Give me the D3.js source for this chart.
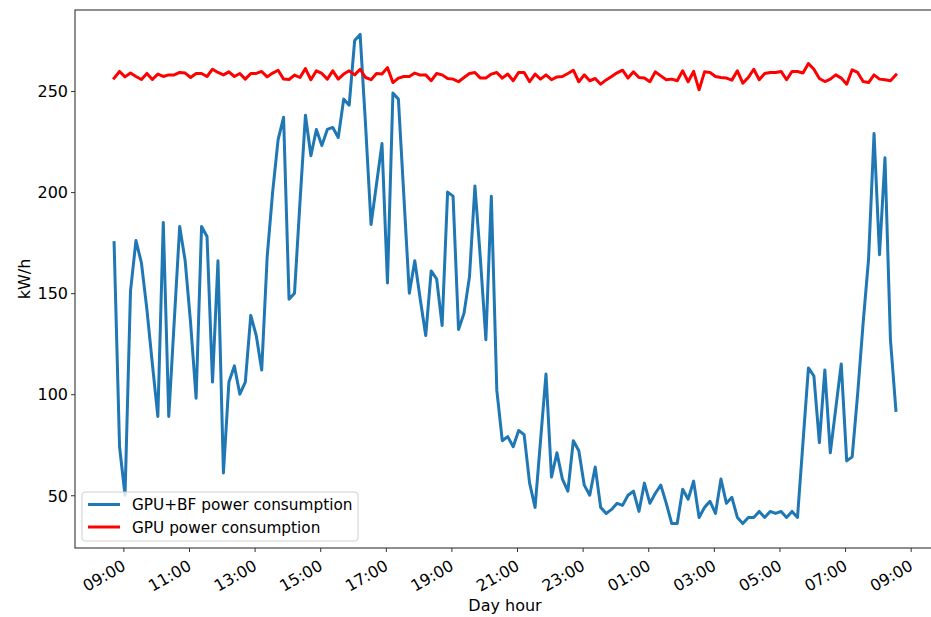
<!DOCTYPE html>
<html>
<head>
<meta charset="utf-8">
<script src="https://cdn.jsdelivr.net/npm/d3@7"></script>
<style>
  body { margin: 0; background: #fff; }
  text { font-family: "DejaVu Sans", sans-serif; fill: #000; }
</style>
</head>
<body>
<div id="chart"></div>
<script>
// readings every 10 minutes, starting at 08:43
var startTime = "08:43";
var stepMinutes = 10;

var seriesNames = ["GPU+BF power consumption", "GPU power consumption"];
var seriesColors = ["#1f77b4", "red"];

var gpuBf = [175, 74, 50, 151, 176, 165, 142, 115, 89, 185,
  89, 136, 183, 166, 135, 98, 183, 178, 106, 166,
  61, 106, 114, 100, 106, 139, 129, 112, 168, 200,
  226, 237, 147, 150, 195, 238, 218, 231, 223, 231,
  232, 227, 246, 243, 275, 278, 233, 184, 204, 224,
  155, 249, 246, 198, 150, 166, 147, 129, 161, 157,
  134, 200, 198, 132, 140, 158, 203, 167, 127, 198,
  102, 77, 79, 74, 82, 80, 56, 44, 77, 110,
  59, 71, 58, 52, 77, 72, 55, 50, 64, 44,
  41, 43, 46, 45, 50, 52, 42, 56, 46, 51,
  55, 46, 36, 36, 53, 48, 57, 39, 44, 47,
  41, 58, 46, 49, 39, 36, 39, 39, 42, 39,
  42, 41, 42, 39, 42, 39, 76, 113, 109, 76,
  112, 71, 93, 115, 67, 69, 100, 135, 167, 229,
  169, 217, 127, 92];

var gpu = [256.4, 259.7, 257.0, 258.9, 257.2, 255.7, 258.7, 255.7, 258.4, 257.2,
  258.0, 258.0, 259.2, 258.9, 256.7, 258.7, 258.7, 257.2, 260.8, 259.2,
  258.0, 259.5, 257.2, 258.7, 255.9, 258.7, 258.7, 259.7, 257.0, 258.9,
  260.3, 255.9, 255.7, 257.9, 256.7, 261.1, 255.6, 260.0, 258.7, 255.9,
  260.0, 255.9, 258.4, 260.0, 258.0, 260.8, 256.7, 255.6, 258.7, 258.4,
  261.6, 254.2, 256.4, 257.2, 257.2, 258.9, 257.9, 258.0, 255.1, 258.7,
  258.0, 256.2, 255.9, 254.6, 256.7, 258.7, 259.2, 256.4, 256.4, 258.4,
  259.2, 256.4, 258.4, 255.1, 259.2, 259.2, 254.6, 258.4, 255.9, 258.0,
  255.6, 257.0, 257.2, 258.7, 260.3, 254.6, 258.0, 255.1, 256.2, 253.4,
  255.5, 257.2, 259.0, 260.3, 256.4, 259.5, 256.7, 256.4, 254.6, 259.5,
  257.5, 255.6, 255.9, 255.1, 260.0, 254.6, 259.7, 250.6, 259.5, 259.2,
  257.2, 256.7, 256.4, 255.4, 260.0, 253.9, 256.7, 260.8, 255.6, 258.7,
  259.2, 259.2, 259.7, 255.6, 259.7, 259.7, 258.9, 263.6, 260.8, 256.2,
  254.7, 255.9, 258.0, 256.4, 253.4, 260.5, 259.2, 254.7, 254.2, 258.0,
  255.9, 255.6, 255.1, 258.0];

var svgWidth = 931;
var svgHeight = 617;

var margin = { top: 10, right: -4, bottom: 69, left: 75 };
var width = svgWidth - margin.left - margin.right;
var height = svgHeight - margin.top - margin.bottom;

var t0 = d3.timeParse("%Y-%m-%d %H:%M")("2021-01-01 " + startTime);
var times = gpuBf.map(function(d, i) { return d3.timeMinute.offset(t0, i * stepMinutes); });

var svg = d3.select("#chart")
  .append("svg")
  .attr("width", svgWidth)
  .attr("height", svgHeight)
  .style("overflow", "hidden");

var chartGroup = svg.append("g")
  .attr("transform", `translate(${margin.left}, ${margin.top})`);

// matplotlib style 5% margins
var tExt = d3.extent(times);
var tPad = (tExt[1] - tExt[0]) * 0.05;
var xScale = d3.scaleTime()
  .domain([new Date(+tExt[0] - tPad), new Date(+tExt[1] + tPad)])
  .range([0, width]);

var yMin = d3.min(gpuBf.concat(gpu));
var yMax = d3.max(gpuBf.concat(gpu));
var yPad = (yMax - yMin) * 0.05;
var yScale = d3.scaleLinear()
  .domain([yMin - yPad, yMax + yPad])
  .range([height, 0]);

// axes
var xTicks = d3.timeHour.range(d3.timeHour.ceil(tExt[0]), d3.timeHour.offset(tExt[1], 1), 2);
var bottomAxis = d3.axisBottom(xScale)
  .tickValues(xTicks)
  .tickFormat(d3.timeFormat("%H:%M"))
  .tickSizeOuter(0)
  .tickSize(4);
var leftAxis = d3.axisLeft(yScale)
  .tickValues([50, 100, 150, 200, 250])
  .tickSizeOuter(0)
  .tickSize(4);

var xAxisG = chartGroup.append("g")
  .attr("transform", `translate(0, ${height})`)
  .call(bottomAxis);
xAxisG.select(".domain").remove();
xAxisG.selectAll("line").attr("stroke", "#333").attr("stroke-width", 1);
xAxisG.selectAll("text")
  .attr("font-size", 16)
  .attr("y", 0)
  .attr("dy", 0)
  .attr("text-anchor", "end")
  .attr("transform", "translate(3, 21) rotate(-30)");

var yAxisG = chartGroup.append("g").call(leftAxis);
yAxisG.select(".domain").remove();
yAxisG.selectAll("line").attr("stroke", "#333").attr("stroke-width", 1);
yAxisG.selectAll("text")
  .attr("font-size", 16)
  .attr("x", -7)
  .attr("dy", "0.36em");

// lines
var series = [gpuBf, gpu];
var line = d3.line()
  .x(function(d, i) { return xScale(times[i]); })
  .y(function(d) { return yScale(d); });

series.forEach(function(s, k) {
  chartGroup.append("path")
    .datum(s)
    .attr("fill", "none")
    .attr("stroke", seriesColors[k])
    .attr("stroke-width", 3)
    .attr("stroke-linejoin", "round")
    .attr("stroke-linecap", "square")
    .attr("d", line);
});

// frame
chartGroup.append("rect")
  .attr("x", 0)
  .attr("y", 0)
  .attr("width", width)
  .attr("height", height)
  .attr("fill", "none")
  .attr("stroke", "#333")
  .attr("stroke-width", 1.1);

// legend
var legend = chartGroup.append("g")
  .attr("transform", "translate(7, 482)");
legend.append("rect")
  .attr("width", 276)
  .attr("height", 49)
  .attr("rx", 3)
  .attr("fill", "white")
  .attr("fill-opacity", 0.8)
  .attr("stroke", "#d0d0d0")
  .attr("stroke-width", 1);
seriesNames.forEach(function(name, k) {
  var yy = 12.5 + k * 22.5;
  legend.append("line")
    .attr("x1", 6).attr("x2", 38)
    .attr("y1", yy).attr("y2", yy)
    .attr("stroke", seriesColors[k])
    .attr("stroke-width", 3);
  legend.append("text")
    .attr("x", 50)
    .attr("y", yy)
    .attr("dy", "0.36em")
    .attr("font-size", 15.3)
    .text(name);
});

// axis labels
svg.append("text")
  .attr("x", margin.left + width / 2)
  .attr("y", 611)
  .attr("text-anchor", "middle")
  .attr("font-size", 16)
  .text("Day hour");

svg.append("text")
  .attr("transform", `translate(30, ${margin.top + height / 2}) rotate(-90)`)
  .attr("text-anchor", "middle")
  .attr("font-size", 16)
  .text("kW/h");
</script>
</body>
</html>
